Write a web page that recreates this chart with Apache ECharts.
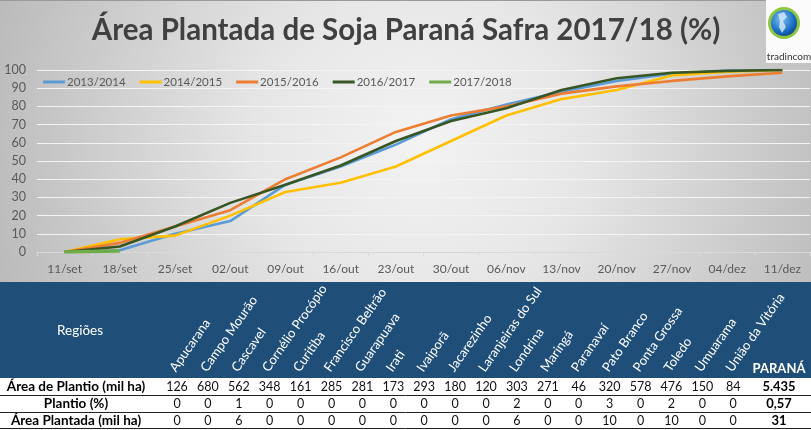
<!DOCTYPE html>
<html>
<head>
<meta charset="utf-8">
<script src="https://cdn.jsdelivr.net/npm/echarts@6/dist/echarts.min.js"></script>
<style>
html,body{margin:0;padding:0;background:#fff;}
#chart{width:811px;height:430px;}
</style>
</head>
<body>
<div id="chart"></div>
<script>
// ---- data ----
const categories = ['11/set','18/set','25/set','02/out','09/out','16/out','23/out','30/out','06/nov','13/nov','20/nov','27/nov','04/dez','11/dez'];
const s2013 = [0, 1, 10, 17, 37, 47, 59, 73, 81, 88, 94, 98, 99.5, 100];
const s2014 = [0, 7, 9, 20, 33, 38, 47, 61, 75, 84, 89, 97, 99, 100];
const s2015 = [0, 5, 14, 23, 40, 52, 66, 75, 80, 87, 91, 94, 96.5, 98.5];
const s2016 = [0, 3, 14, 27, 37, 47.5, 61, 72, 79, 89, 95.5, 98.5, 99.5, 100];
const s2017 = [0, 0.57];
const seriesNames = ['2013/2014','2014/2015','2015/2016','2016/2017','2017/2018'];
const yTicks = [0,10,20,30,40,50,60,70,80,90,100];

const regions = ['Apucarana','Campo Mourão','Cascavel','Cornélio Procópio','Curitiba','Francisco Beltrão','Guarapuava','Irati','Ivaiporã','Jacarezinho','Laranjeiras do Sul','Londrina','Maringá','Paranavaí','Pato Branco','Ponta Grossa','Toledo','Umuarama','União da Vitória'];
const areaPlantio = [126,680,562,348,161,285,281,173,293,180,120,303,271,46,320,578,476,150,84];
const plantioPct = [0,0,1,0,0,0,0,0,0,0,0,2,0,0,3,0,2,0,0];
const areaPlantada = [0,0,6,0,0,0,0,0,0,0,0,6,0,0,10,0,10,0,0];
const totalLabel = 'PARANÁ';
const totals = ['5.435','0,57','31'];
const rowLabels = ['Área de Plantio (mil ha)','Plantio (%)','Área Plantada (mil ha)'];
const headerLabel = 'Regiões';
const titleText = 'Área Plantada de Soja Paraná Safra 2017/18 (%)';

// ---- styles ----
const F = "Lato, 'Open Sans', sans-serif";
const colors = ['#5b9bd5','#ffc000','#ed7d31','#375623','#70ad47'];

const chart = echarts.init(document.getElementById('chart'));

const g = [];
// chart background
g.push({type:'rect', z:-10, shape:{x:0,y:0,width:811,height:282},
  style:{fill:new echarts.graphic.RadialGradient(420,140,470,[
    {offset:0,color:'#f3f3f3'},{offset:0.35,color:'#e6e6e6'},{offset:1,color:'#b6b6b6'}],true)}});
g.push({type:'line', z:-9, shape:{x1:0,y1:0.5,x2:811,y2:0.5}, style:{stroke:'#9a9a9a',lineWidth:1}});
// logo
g.push({type:'rect', z:5, shape:{x:766,y:0,width:45,height:63}, style:{fill:'#fbfbfb'}});
g.push({type:'circle', z:6, shape:{cx:784,cy:23,r:16}, style:{fill:'#8dc63f'}});
g.push({type:'circle', z:7, shape:{cx:784,cy:23,r:13},
  style:{fill:new echarts.graphic.RadialGradient(0.4,0.35,0.8,[{offset:0,color:'#7ec3f0'},{offset:0.6,color:'#1a6fc4'},{offset:1,color:'#0a2f7a'}])}});
g.push({type:'polygon', z:8, shape:{points:[[778,14],[784,12],[787,17],[783,21],[786,27],[782,33],[779,27],[780,21]]}, style:{fill:'#d6e8f5',opacity:0.8}});
g.push({type:'text', z:8, x:789, y:57, style:{text:'tradincom', font:"10px "+F, fill:'#333', textAlign:'center', textVerticalAlign:'middle'}});
// title
g.push({type:'text', z:5, x:406, y:30, style:{text:titleText, font:"bold 29.5px "+F, fill:'#404040', textAlign:'center', textVerticalAlign:'middle'}});

// table
const colX = i => 177 + i*30.9;
const totX = 779;
g.push({type:'rect', z:10, shape:{x:0,y:282,width:811,height:96}, style:{fill:'#1f4e79'}});
g.push({type:'rect', z:10, shape:{x:0,y:378,width:811,height:52}, style:{fill:'#ffffff'}});
g.push({type:'text', z:11, x:80, y:331, style:{text:headerLabel, font:"13.5px "+F, fill:'#ffffff', textAlign:'center', textVerticalAlign:'middle'}});
regions.forEach((r,i)=>{
  g.push({type:'text', z:11, x:colX(i)+1, y:374, rotation:55*Math.PI/180,
    style:{text:r, font:"13px "+F, fill:'#ffffff', textAlign:'left', textVerticalAlign:'bottom'}});
});
g.push({type:'text', z:11, x:totX, y:369, style:{text:totalLabel, font:"bold 13px "+F, fill:'#ffffff', textAlign:'center', textVerticalAlign:'middle'}});
const rowsY = [387, 404, 421];
const rows = [areaPlantio, plantioPct, areaPlantada];
rows.forEach((arr,ri)=>{
  g.push({type:'text', z:11, x:76, y:rowsY[ri], style:{text:rowLabels[ri], font:"bold 13.5px "+F, fill:'#000', textAlign:'center', textVerticalAlign:'middle'}});
  arr.forEach((v,i)=>{
    g.push({type:'text', z:11, x:colX(i), y:rowsY[ri], style:{text:String(v), font:"12.5px "+F, fill:'#111', textAlign:'center', textVerticalAlign:'middle'}});
  });
  g.push({type:'text', z:11, x:totX, y:rowsY[ri], style:{text:totals[ri], font:"bold 13px "+F, fill:'#000', textAlign:'center', textVerticalAlign:'middle'}});
});
[395.5, 412.5, 428.5].forEach(y=>{
  g.push({type:'line', z:12, shape:{x1:0,y1:y,x2:811,y2:y}, style:{stroke:'#222',lineWidth:1}});
});

const dataSets = [s2013, s2014, s2015, s2016, s2017];
const option = {
  animation:false,
  textStyle:{fontFamily:F},
  legend:{
    left:38, top:71, itemWidth:22, itemHeight:3, itemGap:14, icon:'rect',
    textStyle:{fontSize:11.5, color:'#595959', fontFamily:F, padding:[0,0,0,-3]},
    data:seriesNames
  },
  grid:{left:37, right:1, top:70, bottom:178, containLabel:false},
  xAxis:{
    type:'category', data:categories, boundaryGap:true,
    axisLine:{lineStyle:{color:'#d9d9d9',width:1}},
    axisTick:{show:true, length:4, lineStyle:{color:'#d9d9d9'}},
    axisLabel:{fontSize:12, color:'#595959', margin:11, fontFamily:F}
  },
  yAxis:{
    type:'value', min:0, max:100, interval:10,
    axisLine:{show:false}, axisTick:{show:false},
    axisLabel:{fontSize:12.5, color:'#595959', margin:11, fontFamily:F,
      formatter:v=> yTicks.includes(v) ? String(v) : ''},
    splitLine:{lineStyle:{color:'#f4f4f4',width:1}}
  },
  series: dataSets.map((d,i)=>({
    name:seriesNames[i], type:'line', data:d, showSymbol:false, symbol:'none',
    lineStyle:{width: i===4 ? 3.5 : 2.6, color:colors[i]},
    itemStyle:{color:colors[i]}, z: 2+i
  })),
  graphic:{elements:g}
};
chart.setOption(option);
</script>
</body>
</html>
